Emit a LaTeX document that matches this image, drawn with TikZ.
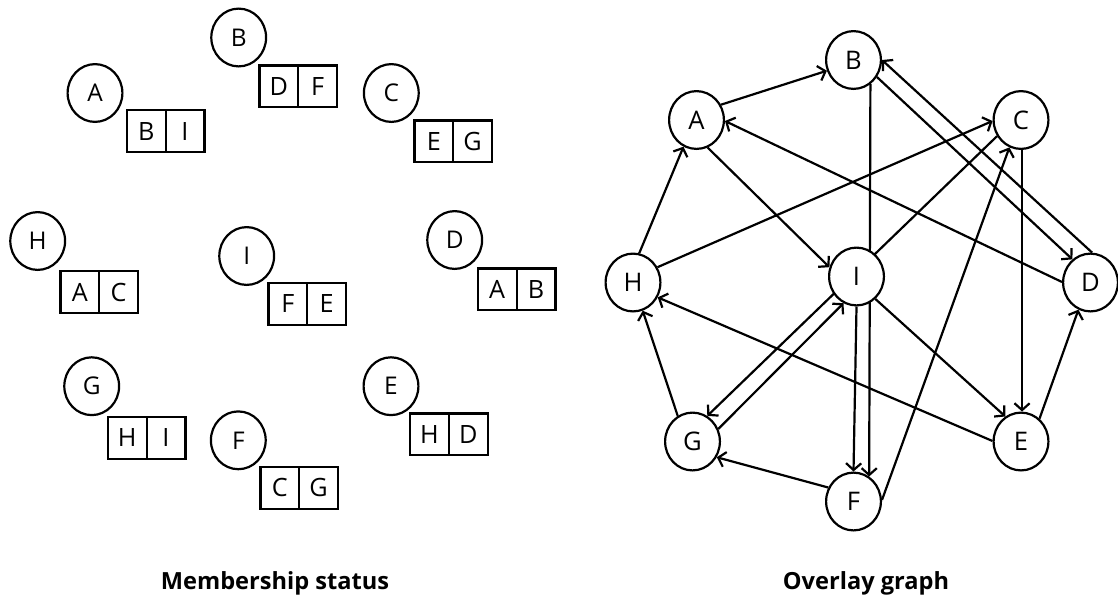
\documentclass[tikz,border=0pt]{standalone}
\usepackage{fontspec}
\setmainfont{Open Sans}
\usetikzlibrary{positioning,shapes.geometric,arrows.meta,backgrounds}

\begin{document}
\begin{tikzpicture}[
  x = 0.5pt,
  y = -0.5pt,
  peer/.style = {draw, ellipse, line width=1.1pt, fill=white, inner sep=0pt,
    minimum width=27.4pt, minimum height=28.9pt},
  status-peer/.style = {peer, font=\fontsize{12.2}{14}\selectfont},
  overlay-peer/.style = {peer, font=\fontsize{12.8}{15}\selectfont},
  view/.style = {draw, line width=1.1pt, inner sep=0pt, minimum width=19.4pt,
    minimum height=20.9pt, font=\fontsize{12.6}{15}\selectfont},
  link/.style = {line width=1.1pt, -{Straight Barb[length=3.4pt,width=7.6pt]}},
  caption/.style = {anchor=base, font=\fontsize{11.8}{14}\selectfont\bfseries},
  ]
  \useasboundingbox (0,0) rectangle (1118,596);

  % membership status: every peer with its two view entries
  \node[status-peer] (status-A) at (95,93) {A};
  \node[view] (status-A-1) at (146.2,131) {B};
  \node[view, right=-1.1pt of status-A-1] (status-A-2) {I};

  \node[status-peer] (status-B) at (238.7,37.5) {B};
  \node[view] (status-B-1) at (278.8,86.3) {D};
  \node[view, right=-1.1pt of status-B-1] (status-B-2) {F};

  \node[status-peer] (status-C) at (391.3,93) {C};
  \node[view] (status-C-1) at (433.8,141.3) {E};
  \node[view, right=-1.1pt of status-C-1] (status-C-2) {G};

  \node[status-peer] (status-H) at (37.7,241) {H};
  \node[view] (status-H-1) at (79.8,292) {A};
  \node[view, right=-1.1pt of status-H-1] (status-H-2) {C};

  \node[status-peer] (status-I) at (246.7,256) {I};
  \node[view] (status-I-1) at (287.8,303.7) {F};
  \node[view, right=-1.1pt of status-I-1] (status-I-2) {E};

  \node[status-peer] (status-D) at (454.7,240) {D};
  \node[view] (status-D-1) at (497.2,289.3) {A};
  \node[view, right=-1.1pt of status-D-1] (status-D-2) {B};

  \node[status-peer] (status-G) at (91.7,386.2) {G};
  \node[view] (status-G-1) at (127.2,437.7) {H};
  \node[view, right=-1.1pt of status-G-1] (status-G-2) {I};

  \node[status-peer] (status-F) at (238.3,440.3) {F};
  \node[view] (status-F-1) at (279.8,487.7) {C};
  \node[view, right=-1.1pt of status-F-1] (status-F-2) {G};

  \node[status-peer] (status-E) at (391,386.2) {E};
  \node[view] (status-E-1) at (429.5,434.3) {H};
  \node[view, right=-1.1pt of status-E-1] (status-E-2) {D};

  \node[caption] (status-caption) at (275,589.3) {Membership status};

  % overlay graph
  \node[overlay-peer] (overlay-A) at (696.5,120) {A};
  \node[overlay-peer] (overlay-B) at (853.5,60) {B};
  \node[overlay-peer] (overlay-C) at (1021,120) {C};
  \node[overlay-peer] (overlay-D) at (1090.5,282.5) {D};
  \node[overlay-peer] (overlay-E) at (1021,441.5) {E};
  \node[overlay-peer] (overlay-F) at (853.5,501.5) {F};
  \node[overlay-peer] (overlay-G) at (692.5,441.5) {G};
  \node[overlay-peer] (overlay-H) at (633,282.5) {H};
  \node[overlay-peer] (overlay-I) at (856.5,276.5) {I};

  \node[caption] (overlay-caption) at (866,589) {Overlay graph};

  \begin{scope}[on background layer]
    \draw[link] (overlay-A.32) -- (overlay-B.-158);
    \draw[link] (overlay-A.-68) -- (overlay-I.161);
    \draw[link] (overlay-B.-36) -- (overlay-D.128);
    \draw[link] (overlay-B.-55) -- (overlay-F.58);
    \draw[link] (overlay-C.-88) -- (overlay-E.88);
    \draw[link] (overlay-C.214) -- (overlay-G.60);
    \draw[link] (overlay-D.179) -- (overlay-A.-2);
    \draw[link] (overlay-D.87) -- (overlay-B.0);
    \draw[link] (overlay-E.179) -- (overlay-H.-31);
    \draw[link] (overlay-E.51) -- (overlay-D.246);
    \draw[link] (overlay-F.3) -- (overlay-C.247);
    \draw[link] (overlay-F.151) -- (overlay-G.-33);
    \draw[link] (overlay-G.120) -- (overlay-H.-71);
    \draw[link] (overlay-G.26) -- (overlay-I.244);
    \draw[link] (overlay-H.78) -- (overlay-A.244);
    \draw[link] (overlay-H.32) -- (overlay-C.182);
    \draw[link] (overlay-I.south) -- (overlay-F.north);
    \draw[link] (overlay-I.-50) -- (overlay-E.122);
  \end{scope}
\end{tikzpicture}
\end{document}
